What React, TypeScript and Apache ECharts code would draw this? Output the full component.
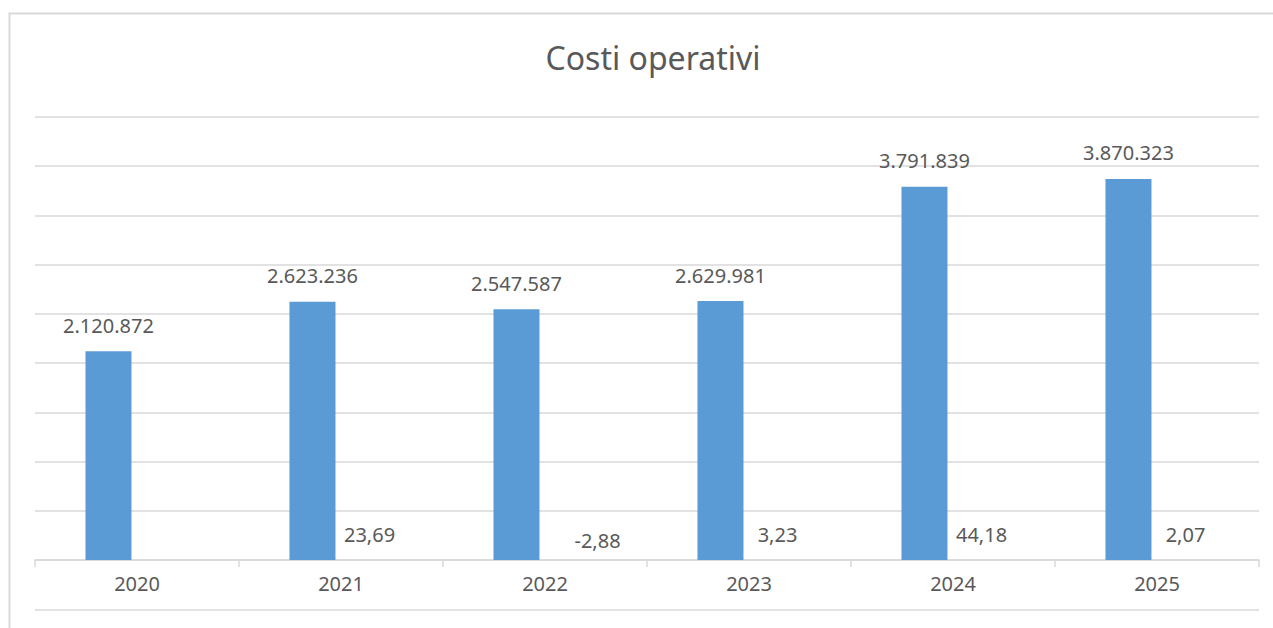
import React, { useEffect, useRef } from "react";
import * as echarts from "echarts";

const years = ["2020", "2021", "2022", "2023", "2024", "2025"];
const costs = [2120872, 2623236, 2547587, 2629981, 3791839, 3870323];
const variations: (number | null)[] = [null, 23.69, -2.88, 3.23, 44.18, 2.07];

const FONT = "Noto Sans";
const TEXT = "#595959";
const BLUE = "#5B9BD5";
const GRID = "#D9D9D9";

function fmtInt(v: number): string {
  const s = Math.round(v).toString();
  return s.replace(/\B(?=(\d{3})+(?!\d))/g, ".");
}
function fmtPct(v: number): string {
  return v.toFixed(2).replace(".", ",");
}

export default function App() {
  const ref = useRef<HTMLDivElement>(null);
  useEffect(() => {
    if (!ref.current) return;
    const chart = echarts.init(ref.current, undefined, { renderer: "svg" });
    chart.setOption({
      animation: false,
      backgroundColor: "#ffffff",
      title: {
        text: "Costi operativi",
        left: 648,
        textAlign: "center",
        top: 36,
        textStyle: { fontFamily: FONT, fontSize: 32, fontWeight: "normal", color: TEXT },
      },
      grid: { left: 35, right: 14, top: 117, bottom: 68, containLabel: false },
      xAxis: {
        type: "category",
        data: years,
        axisLine: { lineStyle: { color: GRID, width: 1.5 } },
        axisTick: { show: true, length: 7, lineStyle: { color: GRID, width: 1.5 } },
        axisLabel: { fontFamily: FONT, fontSize: 20, color: TEXT, margin: 13 },
      },
      yAxis: {
        type: "value",
        min: 0,
        max: 4500000,
        interval: 500000,
        axisLabel: { show: false },
        axisLine: { show: false },
        axisTick: { show: false },
        splitLine: { lineStyle: { color: GRID, width: 1.5 } },
      },
      graphic: [
        {
          type: "rect",
          shape: { x: 9.5, y: 13.5, width: 1300, height: 700 },
          style: { fill: "none", stroke: GRID, lineWidth: 2 },
          silent: true,
        },
        {
          type: "line",
          shape: { x1: 35, y1: 610, x2: 1259, y2: 610 },
          style: { stroke: GRID, lineWidth: 1.5 },
          silent: true,
        },
      ],
      series: [
        {
          type: "bar",
          name: "Costi",
          data: costs,
          barWidth: 46,
          barGap: "24%",
          itemStyle: { color: BLUE },
          label: {
            show: true,
            position: "top",
            distance: 16,
            fontFamily: FONT,
            fontSize: 20,
            color: TEXT,
            formatter: (p: any) => fmtInt(p.value),
          },
        },
        {
          type: "bar",
          name: "Variazione %",
          data: variations.map((v) =>
            v !== null && v < 0
              ? { value: v, label: { offset: [24, 5] } }
              : v
          ),
          barWidth: 46,
          barGap: "24%",
          itemStyle: { color: "#ED7D31" },
          label: {
            show: true,
            position: "top",
            distance: 15,
            fontFamily: FONT,
            fontSize: 20,
            color: TEXT,
            formatter: (p: any) => (p.value === null || p.value === undefined ? "" : fmtPct(p.value)),
          },
        },
      ],
    });
    return () => chart.dispose();
  }, []);
  return (
    <div
      ref={ref}
      style={{ position: "fixed", left: 0, top: 0, width: 1273, height: 628 }}
    />
  );
}
